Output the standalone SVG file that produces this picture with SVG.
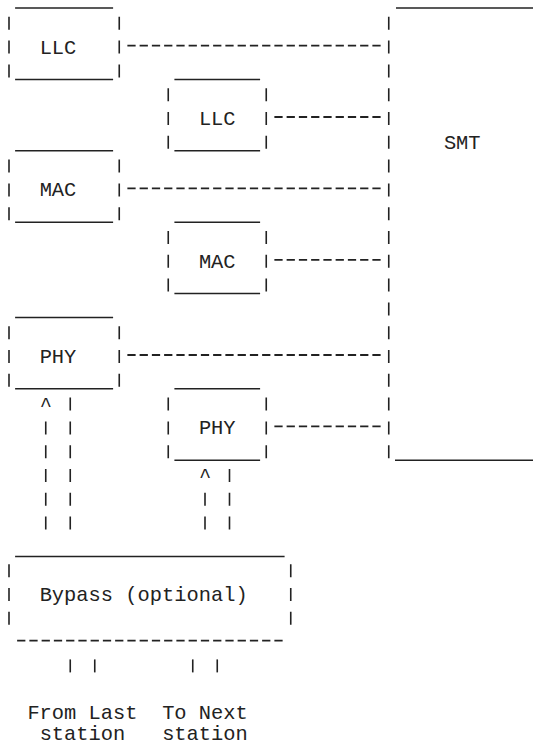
<svg xmlns="http://www.w3.org/2000/svg" width="533" height="747" viewBox="0 0 533 747">
<style>
  .t { font-family: "Liberation Mono", "Courier New", monospace; font-size: 20.4px; fill: #222; }
  .u { stroke: #222; stroke-width: 1.5; fill: none; }
  .b { stroke: #222; stroke-width: 1.6; fill: none; stroke-dasharray: 13 10.8; }
  .d { stroke: #222; stroke-width: 1.8; fill: none; stroke-dasharray: 8.25 4; }
</style>
<rect width="533" height="747" fill="#fff"/>

<g id="llc1">
  <line class="u" x1="15.1" y1="8" x2="113.1" y2="8"/>
  <line class="u" x1="15.1" y1="79.4" x2="113.1" y2="79.4"/>
  <line class="b" x1="9" y1="16.8" x2="9" y2="77.4"/>
  <line class="b" x1="119.25" y1="16.8" x2="119.25" y2="77.4"/>
  <text class="t" x="39.625" y="53.6">LLC</text>
</g>
<g id="llc2">
  <line class="u" x1="174.4" y1="79.4" x2="260.1" y2="79.4"/>
  <line class="u" x1="174.4" y1="150.8" x2="260.1" y2="150.8"/>
  <line class="b" x1="168.25" y1="88.2" x2="168.25" y2="148.8"/>
  <line class="b" x1="266.25" y1="88.2" x2="266.25" y2="148.8"/>
  <text class="t" x="198.875" y="125">LLC</text>
</g>
<g id="mac1">
  <line class="u" x1="15.1" y1="150.8" x2="113.1" y2="150.8"/>
  <line class="u" x1="15.1" y1="222.2" x2="113.1" y2="222.2"/>
  <line class="b" x1="9" y1="159.6" x2="9" y2="220.2"/>
  <line class="b" x1="119.25" y1="159.6" x2="119.25" y2="220.2"/>
  <text class="t" x="39.625" y="196.4">MAC</text>
</g>
<g id="mac2">
  <line class="u" x1="174.4" y1="222.2" x2="260.1" y2="222.2"/>
  <line class="u" x1="174.4" y1="293.6" x2="260.1" y2="293.6"/>
  <line class="b" x1="168.25" y1="231" x2="168.25" y2="291.6"/>
  <line class="b" x1="266.25" y1="231" x2="266.25" y2="291.6"/>
  <text class="t" x="198.875" y="267.8">MAC</text>
</g>
<g id="phy1">
  <line class="u" x1="15.1" y1="317.4" x2="113.1" y2="317.4"/>
  <line class="u" x1="15.1" y1="388.8" x2="113.1" y2="388.8"/>
  <line class="b" x1="9" y1="326.2" x2="9" y2="386.8"/>
  <line class="b" x1="119.25" y1="326.2" x2="119.25" y2="386.8"/>
  <text class="t" x="39.625" y="363">PHY</text>
</g>
<g id="phy2">
  <line class="u" x1="174.4" y1="388.8" x2="260.1" y2="388.8"/>
  <line class="u" x1="174.4" y1="460.2" x2="260.1" y2="460.2"/>
  <line class="b" x1="168.25" y1="397.6" x2="168.25" y2="458.2"/>
  <line class="b" x1="266.25" y1="397.6" x2="266.25" y2="458.2"/>
  <text class="t" x="198.875" y="434.4">PHY</text>
</g>
<g id="smt">
  <line class="u" x1="396" y1="8" x2="533" y2="8"/>
  <line class="u" x1="395" y1="460.2" x2="533" y2="460.2"/>
  <line class="b" x1="388.75" y1="16.8" x2="388.75" y2="458.2"/>
  <text class="t" x="443.875" y="148.8">SMT</text>
</g>
<g id="bypass">
  <line class="u" x1="15.1" y1="556.5" x2="284.6" y2="556.5"/>
  <line class="d" x1="17.125" y1="640.6" x2="282.625" y2="640.6"/>
  <line class="b" x1="9" y1="564.2" x2="9" y2="624.8"/>
  <line class="b" x1="290.75" y1="564.2" x2="290.75" y2="624.8"/>
  <text class="t" x="39.625" y="601">Bypass (optional)</text>
</g>

<g id="connectors">
  <line class="d" x1="127.375" y1="45.6" x2="380.625" y2="45.6"/>
  <line class="d" x1="274.375" y1="117" x2="380.625" y2="117"/>
  <line class="d" x1="127.375" y1="188.4" x2="380.625" y2="188.4"/>
  <line class="d" x1="274.375" y1="259.8" x2="380.625" y2="259.8"/>
  <line class="d" x1="127.375" y1="355" x2="380.625" y2="355"/>
  <line class="d" x1="274.375" y1="426.4" x2="380.625" y2="426.4"/>

  <text class="t" x="39.625" y="410.6">^</text>
  <line class="b" x1="45.75" y1="421.4" x2="45.75" y2="529.6"/>
  <line class="b" x1="70.25" y1="397.6" x2="70.25" y2="529.6"/>

  <text class="t" x="198.875" y="482">^</text>
  <line class="b" x1="205" y1="492.8" x2="205" y2="529.6"/>
  <line class="b" x1="229.5" y1="469" x2="229.5" y2="529.6"/>

  <line class="b" x1="70.25" y1="659.4" x2="70.25" y2="672.4"/>
  <line class="b" x1="94.75" y1="659.4" x2="94.75" y2="672.4"/>
  <line class="b" x1="192.75" y1="659.4" x2="192.75" y2="672.4"/>
  <line class="b" x1="217.25" y1="659.4" x2="217.25" y2="672.4"/>
</g>

<g id="labels">
  <text class="t" x="27.375" y="718.5">From Last</text>
  <text class="t" x="162.125" y="718.5">To Next</text>
  <text class="t" x="39.625" y="740">station</text>
  <text class="t" x="162.125" y="740">station</text>
</g>
</svg>
